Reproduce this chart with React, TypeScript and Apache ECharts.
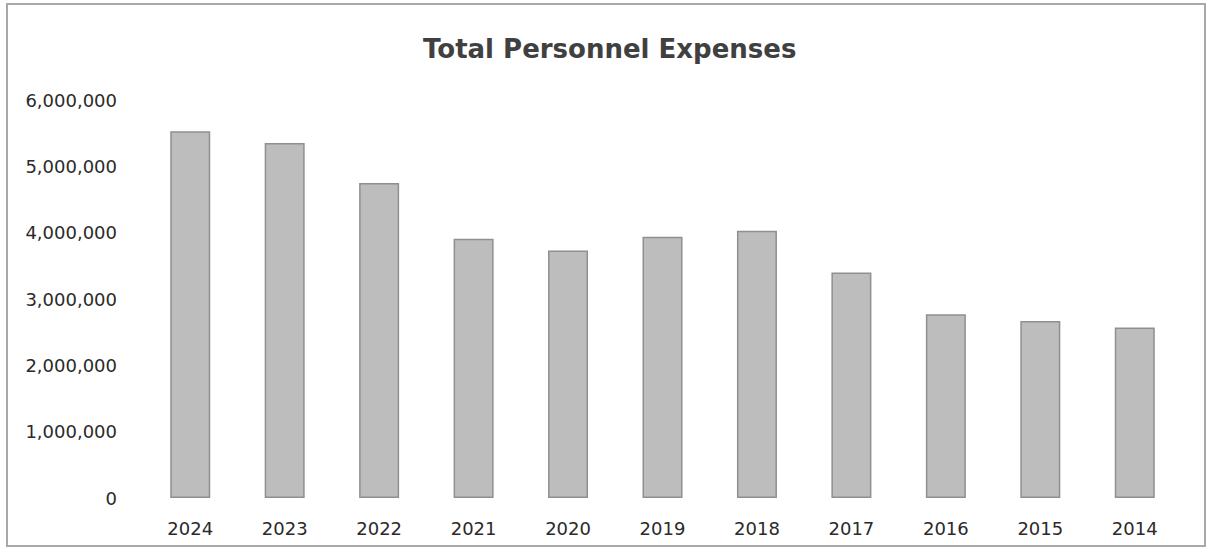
import React, { useEffect, useRef } from "react";
import * as echarts from "echarts";

const years = ["2024", "2023", "2022", "2021", "2020", "2019", "2018", "2017", "2016", "2015", "2014"];
const expenses = [5530000, 5350000, 4750000, 3910000, 3730000, 3940000, 4030000, 3400000, 2770000, 2670000, 2570000];
const yTicks = { min: 0, max: 6000000, interval: 1000000 };
const titleText = "Total Personnel Expenses";

export default function App() {
  const ref = useRef<HTMLDivElement>(null);
  useEffect(() => {
    if (!ref.current) return;
    const chart = echarts.init(ref.current, undefined, { renderer: "svg" });
    const font = "'DejaVu Sans', sans-serif";
    chart.setOption({
      animation: false,
      backgroundColor: "#ffffff",
      title: {
        text: titleText,
        left: 418,
        top: 31,
        textStyle: { fontFamily: font, fontSize: 26, fontWeight: "bold", color: "#404040" },
      },
      graphic: [
        {
          type: "rect",
          shape: { x: 7, y: 4, width: 1198, height: 542 },
          style: { fill: "none", stroke: "#a8a8a8", lineWidth: 2 },
          silent: true,
        },
      ],
      grid: { left: 143, right: 27, top: 100, bottom: 56, containLabel: false },
      xAxis: {
        type: "category",
        data: years,
        axisLine: { show: false },
        axisTick: { show: false },
        axisLabel: { margin: 21, fontFamily: font, fontSize: 18, color: "#2a2a2a" },
      },
      yAxis: {
        type: "value",
        min: yTicks.min,
        max: yTicks.max,
        interval: yTicks.interval,
        axisLine: { show: false },
        axisTick: { show: false },
        splitLine: { show: false },
        axisLabel: {
          margin: 26,
          fontFamily: font,
          fontSize: 18,
          color: "#2a2a2a",
          formatter: (v: number) => v.toLocaleString("en-US"),
        },
      },
      series: [
        {
          type: "bar",
          data: expenses,
          barWidth: 40,
          itemStyle: { color: "#bdbdbd", borderColor: "#8f8f8f", borderWidth: 1.5 },
        },
      ],
    });
    return () => chart.dispose();
  }, []);
  return <div ref={ref} style={{ position: "absolute", left: 0, top: 0, width: 1209, height: 554 }} />;
}
